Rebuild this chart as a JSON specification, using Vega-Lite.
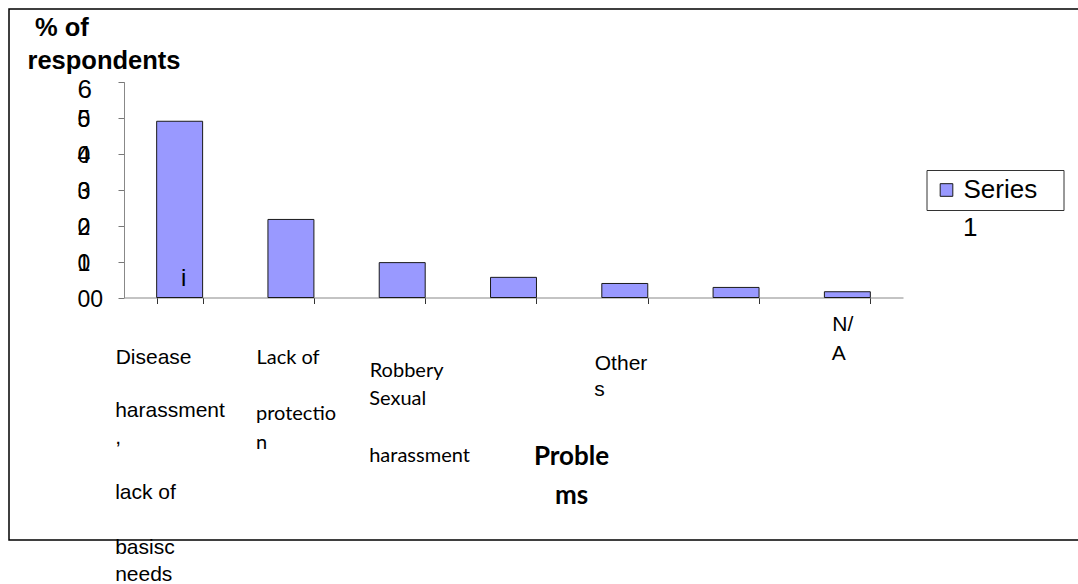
{
  "$schema": "https://vega.github.io/schema/vega-lite/v6.json",
  "width": 1075,
  "height": 531,
  "autosize": {"type": "none"},
  "padding": {"left": 9, "top": 9, "right": 0, "bottom": 44},
  "background": "white",
  "config": {"view": {"stroke": "#000", "strokeWidth": 1.5}, "axis": {"grid": false}},
  "data": {"values": [
    {"problem": "Disease", "pct": 49.0, "note": "i"},
    {"problem": "Lack of protection", "pct": 21.7, "note": ""},
    {"problem": "Robbery", "pct": 9.7, "note": ""},
    {"problem": "Sexual harassment", "pct": 5.6, "note": ""},
    {"problem": "Others", "pct": 3.9, "note": ""},
    {"problem": "Harassment, lack of basic needs", "pct": 2.8, "note": ""},
    {"problem": "N/A", "pct": 1.6, "note": ""}
  ]},
  "resolve": {"axis": {"x": "independent", "y": "independent"}},
  "layer": [
    {
      "mark": {"type": "bar", "stroke": "#1a1a1a", "strokeWidth": 1},
      "encoding": {
        "x": {
          "field": "problem", "type": "nominal", "sort": null,
          "scale": {"range": [115, 894], "paddingInner": 0.587, "paddingOuter": 0.2935},
          "axis": {
            "orient": "bottom", "offset": -242.5,
            "title": ["Proble", "ms"], "titleFont": "Lato", "titleFontWeight": "bold", "titleFontSize": 26,
            "titleColor": "black", "titleAlign": "center", "titleBaseline": "alphabetic", "titleLineHeight": 39,
            "titleX": 562, "titleY": 166.5, "titleAngle": 0,
            "domainColor": "#888", "domainWidth": 1, "tickColor": "#333", "tickSize": 6, "tickBand": "extent",
            "labelAngle": 0, "labelAlign": "left", "labelBaseline": "alphabetic", "labelColor": "black",
            "labelFontSize": {"condition": {"test": "datum.value == 'Lack of protection' || datum.value == 'Robbery'", "value": 20}, "value": 21},
            "labelFont": {"condition": {"test": "datum.value == 'Lack of protection' || datum.value == 'Robbery'", "value": "Lato"}, "value": "Liberation Sans"},
            "labelOffset": {"condition": [
              {"test": "datum.value == 'Disease'", "value": -64.5},
              {"test": "datum.value == 'Lack of protection'", "value": -35},
              {"test": "datum.value == 'Robbery'", "value": -33},
              {"test": "datum.value == 'Others'", "value": -30.5},
              {"test": "datum.value == 'N/A'", "value": -15.5}
            ], "value": 0},
            "labelPadding": {"condition": [
              {"test": "datum.value == 'Disease'", "value": 59.5},
              {"test": "datum.value == 'Lack of protection'", "value": 59.5},
              {"test": "datum.value == 'Robbery'", "value": 72.5},
              {"test": "datum.value == 'Others'", "value": 65.5},
              {"test": "datum.value == 'N/A'", "value": 26.5}
            ], "value": 30},
            "labelOverlap": false, "labelBound": false, "labelFlush": false, "labelLimit": 0,
            "labelExpr": "datum.value == 'Disease' ? 'Disease' : datum.value == 'Lack of protection' ? 'Lack of' : datum.value == 'Robbery' ? 'Robbery' : datum.value == 'Others' ? 'Other' : datum.value == 'N/A' ? 'N/' : ''"
          }
        },
        "y": {
          "field": "pct", "type": "quantitative",
          "scale": {"domain": [0, 60], "nice": false, "range": [288.5, 72.7]},
          "axis": {
            "orient": "left", "offset": -115, "values": [0, 10, 20, 30, 40, 50, 60],
            "title": "respondents", "titleFont": "Liberation Sans", "titleFontWeight": "bold",
            "titleFontSize": 25.5, "titleColor": "black", "titleAngle": 0, "titleAlign": "left",
            "titleBaseline": "alphabetic", "titleX": -97, "titleY": 59,
            "domainColor": "#888", "tickColor": "#777", "tickSize": 6,
            "labelExpr": "datum.value == 60 ? '6' : datum.value == 0 ? '00' : [format(datum.value/10,'d'), '0']",
            "labelAlign": "left", "labelBaseline": "middle", "labelPadding": 41, "labelFont": "Liberation Sans",
            "labelColor": "black", "labelLineHeight": 0.01,
            "labelFontSize": {"condition": {"test": "datum.value == 60", "value": 26}, "value": 23},
            "labelOffset": {"condition": {"test": "datum.value == 60", "value": 8}, "value": 2},
            "labelOverlap": false, "labelFlush": false, "labelBound": false
          }
        },
        "color": {
          "datum": "Series 1",
          "scale": {"range": ["#9999FF"]},
          "legend": {
            "orient": "none", "legendX": 917.5, "legendY": 161, "title": null,
            "symbolType": "square", "symbolSize": 160, "symbolStrokeColor": "#1a1a1a", "symbolStrokeWidth": 1,
            "labelExpr": "'Series\u2800'", "labelFont": "Liberation Sans", "labelFontSize": 26,
            "labelColor": "black", "labelOffset": 4, "labelLimit": 0,
            "strokeColor": "#333", "fillColor": "white", "padding": 7
          }
        },
        "opacity": {
          "datum": "1", "type": "nominal",
          "scale": {"range": [1]},
          "legend": {
            "orient": "none", "legendX": 928, "legendY": 206, "title": null,
            "symbolSize": 0, "symbolOpacity": 0, "symbolStrokeWidth": 0,
            "labelFont": "Liberation Sans", "labelFontSize": 26, "labelColor": "black",
            "labelOffset": 0, "padding": 0
          }
        }
      }
    },
    {
      "mark": {"type": "text", "dx": 4, "dy": -12, "baseline": "alphabetic", "align": "center",
               "font": "Liberation Sans", "fontSize": 24, "color": "black"},
      "encoding": {
        "x": {
          "field": "problem", "type": "nominal", "sort": null,
          "axis": {
            "orient": "bottom", "offset": -242.5, "title": null, "domain": false, "ticks": false,
            "labelAngle": 0, "labelAlign": "left", "labelBaseline": "alphabetic", "labelColor": "black",
            "labelFontSize": {"condition": {"test": "datum.value == 'Lack of protection' || datum.value == 'Robbery'", "value": 20}, "value": 21},
            "labelFont": {"condition": {"test": "datum.value == 'Lack of protection' || datum.value == 'Robbery'", "value": "Lato"}, "value": "Liberation Sans"},
            "labelOffset": {"condition": [
              {"test": "datum.value == 'Disease'", "value": -64.5},
              {"test": "datum.value == 'Lack of protection'", "value": -35},
              {"test": "datum.value == 'Robbery'", "value": -33},
              {"test": "datum.value == 'Others'", "value": -30.5},
              {"test": "datum.value == 'N/A'", "value": -15.5}
            ], "value": 0},
            "labelPadding": {"condition": [
              {"test": "datum.value == 'Disease'", "value": 118.5},
              {"test": "datum.value == 'Lack of protection'", "value": 121.5},
              {"test": "datum.value == 'Robbery'", "value": 106.5},
              {"test": "datum.value == 'Others'", "value": 97.5},
              {"test": "datum.value == 'N/A'", "value": 61.5}
            ], "value": 60},
            "labelOverlap": false, "labelBound": false, "labelFlush": false, "labelLimit": 0,
            "labelExpr": "datum.value == 'Disease' ? 'harassment' : datum.value == 'Lack of protection' ? 'protectio' : datum.value == 'Robbery' ? 'Sexual' : datum.value == 'Others' ? 's' : datum.value == 'N/A' ? 'A' : ''"
          }
        },
        "y": {"datum": 0, "axis": null},
        "text": {"field": "note"}
      }
    },
    {
      "mark": {"type": "bar", "opacity": 0},
      "encoding": {
        "x": {
          "field": "problem", "type": "nominal", "sort": null,
          "axis": {
            "orient": "bottom", "offset": -242.5, "title": null, "domain": false, "ticks": false,
            "labelAngle": 0, "labelAlign": "left", "labelBaseline": "alphabetic", "labelColor": "black",
            "labelLineHeight": 27.5,
            "labelFontSize": {"condition": {"test": "datum.value == 'Lack of protection' || datum.value == 'Robbery'", "value": 20}, "value": 21},
            "labelFont": {"condition": {"test": "datum.value == 'Lack of protection' || datum.value == 'Robbery'", "value": "Lato"}, "value": "Liberation Sans"},
            "labelOffset": {"condition": [
              {"test": "datum.value == 'Disease'", "value": -64.5},
              {"test": "datum.value == 'Lack of protection'", "value": -35},
              {"test": "datum.value == 'Robbery'", "value": -33}
            ], "value": 0},
            "labelPadding": {"condition": [
              {"test": "datum.value == 'Disease'", "value": 145.5},
              {"test": "datum.value == 'Lack of protection'", "value": 150.5},
              {"test": "datum.value == 'Robbery'", "value": 163.5}
            ], "value": 140},
            "labelOverlap": false, "labelBound": false, "labelFlush": false, "labelLimit": 0,
            "labelExpr": "datum.value == 'Disease' ? [',', '\u2800', 'lack of', '\u2800', 'basisc', 'needs'] : datum.value == 'Lack of protection' ? 'n' : datum.value == 'Robbery' ? 'harassment' : ''"
          }
        },
        "y": {
          "field": "pct", "type": "quantitative",
          "axis": {
            "orient": "left", "offset": -115, "domain": false, "ticks": false, "labels": false,
            "title": "% of", "titleFont": "Liberation Sans", "titleFontWeight": "bold",
            "titleFontSize": 25.5, "titleColor": "black", "titleAngle": 0, "titleAlign": "left",
            "titleBaseline": "alphabetic", "titleX": -89.5, "titleY": 26
          }
        }
      }
    }
  ]
}
